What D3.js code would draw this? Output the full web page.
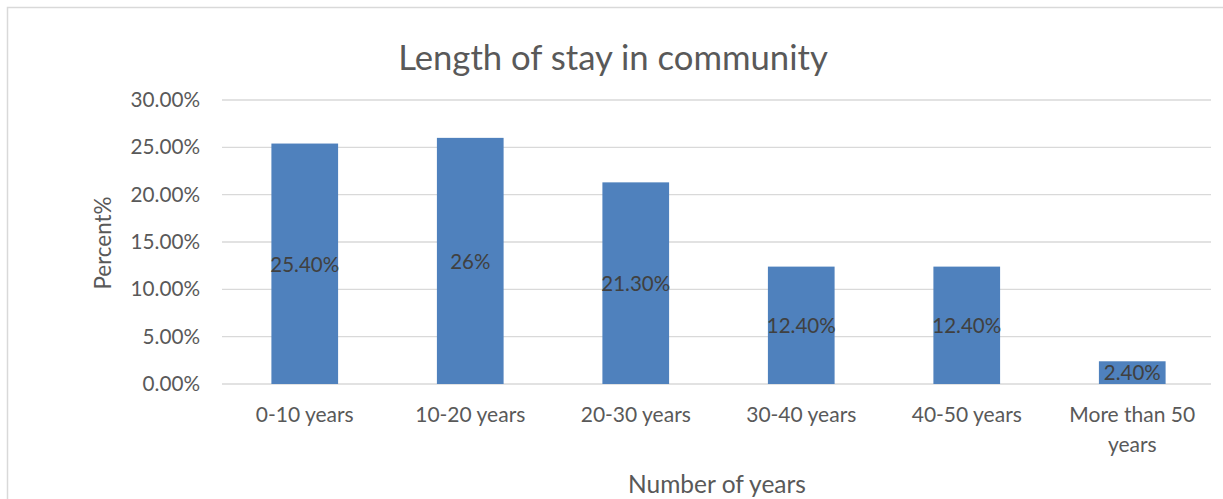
<!DOCTYPE html>
<html>
<head>
<meta charset="utf-8">
<script src="https://cdn.jsdelivr.net/npm/d3@7"></script>
<style>
  body { margin: 0; background: #fff; }
  text { font-family: Lato, "Open Sans", sans-serif; }
</style>
</head>
<body>
<div id="container"></div>
<script>
const WIDTH = 1223,
      HEIGHT = 499;

const categories = ["0-10 years", "10-20 years", "20-30 years", "30-40 years", "40-50 years", "More than 50 years"];
const values = [25.4, 26, 21.3, 12.4, 12.4, 2.4];
const valueLabels = ["25.40%", "26%", "21.30%", "12.40%", "12.40%", "2.40%"];
const yTicks = [0, 5, 10, 15, 20, 25, 30];

const margin = { top: 100, bottom: 115, left: 222, right: 8 };

const svg = d3.select("#container").append("svg")
    .attr("width", WIDTH).attr("height", HEIGHT);

// chart area border
svg.append("rect")
    .attr("x", 7.5).attr("y", 7.5)
    .attr("width", WIDTH + 10).attr("height", HEIGHT + 10)
    .attr("fill", "none")
    .attr("stroke", "#d9d9d9")
    .attr("stroke-width", 1.5);

const xScale = d3.scaleBand()
    .domain(categories)
    .range([margin.left, WIDTH - margin.right])
    .paddingInner(0.597)
    .paddingOuter(0.2985);

const yScale = d3.scaleLinear()
    .domain([0, 30])
    .range([HEIGHT - margin.bottom, margin.top]);

// gridlines
svg.append("g")
    .selectAll("line")
    .data(yTicks)
    .join("line")
    .attr("x1", margin.left)
    .attr("x2", WIDTH - margin.right - 4)
    .attr("y1", d => yScale(d))
    .attr("y2", d => yScale(d))
    .attr("stroke", "#d9d9d9")
    .attr("stroke-width", 1.3);

// y axis
const yAxis = d3.axisLeft(yScale)
    .tickValues(yTicks)
    .tickSize(0)
    .tickPadding(22)
    .tickFormat(d => d.toFixed(2) + "%");

svg.append("g")
    .attr("transform", `translate(${margin.left}, 0)`)
    .call(yAxis)
    .call(g => g.select(".domain").remove())
    .selectAll("text")
    .attr("fill", "#595959")
    .style("font-size", "20.7px");

// bars
svg.append("g")
    .selectAll("rect")
    .data(values)
    .join("rect")
    .attr("x", (d, i) => xScale(categories[i]))
    .attr("width", xScale.bandwidth())
    .attr("y", d => yScale(d))
    .attr("height", d => yScale(0) - yScale(d))
    .attr("fill", "#4f81bd");

// value labels at bar centre
svg.append("g")
    .selectAll("text")
    .data(values)
    .join("text")
    .attr("x", (d, i) => xScale(categories[i]) + xScale.bandwidth() / 2)
    .attr("y", d => (yScale(d) + yScale(0)) / 2)
    .attr("dy", "0.38em")
    .attr("text-anchor", "middle")
    .attr("fill", "#404040")
    .style("font-size", "20.5px")
    .text((d, i) => valueLabels[i]);

// x axis labels (wrapped)
const xAxis = d3.axisBottom(xScale).tickSize(0).tickPadding(23);

svg.append("g")
    .attr("transform", `translate(0, ${yScale(0)})`)
    .call(xAxis)
    .call(g => g.select(".domain").remove())
    .selectAll("text")
    .attr("fill", "#595959")
    .style("font-size", "21px")
    .each(function(d) {
        const t = d3.select(this);
        if (d.length > 14) {
            const cut = d.lastIndexOf(" ");
            t.text(null);
            t.append("tspan").attr("x", 0).text(d.slice(0, cut));
            t.append("tspan").attr("x", 0).attr("dy", "1.43em").text(d.slice(cut + 1));
        }
    });

// title
svg.append("text")
    .attr("x", 613)
    .attr("y", 70)
    .attr("text-anchor", "middle")
    .attr("fill", "#595959")
    .style("font-size", "34.7px")
    .text("Length of stay in community");

// x axis title
svg.append("text")
    .attr("x", 717)
    .attr("y", 493)
    .attr("text-anchor", "middle")
    .attr("fill", "#595959")
    .style("font-size", "24.5px")
    .text("Number of years");

// y axis title
svg.append("text")
    .attr("transform", "rotate(-90)")
    .attr("x", -243)
    .attr("y", 111)
    .attr("text-anchor", "middle")
    .attr("fill", "#595959")
    .style("font-size", "22.4px")
    .text("Percent%");
</script>
</body>
</html>
